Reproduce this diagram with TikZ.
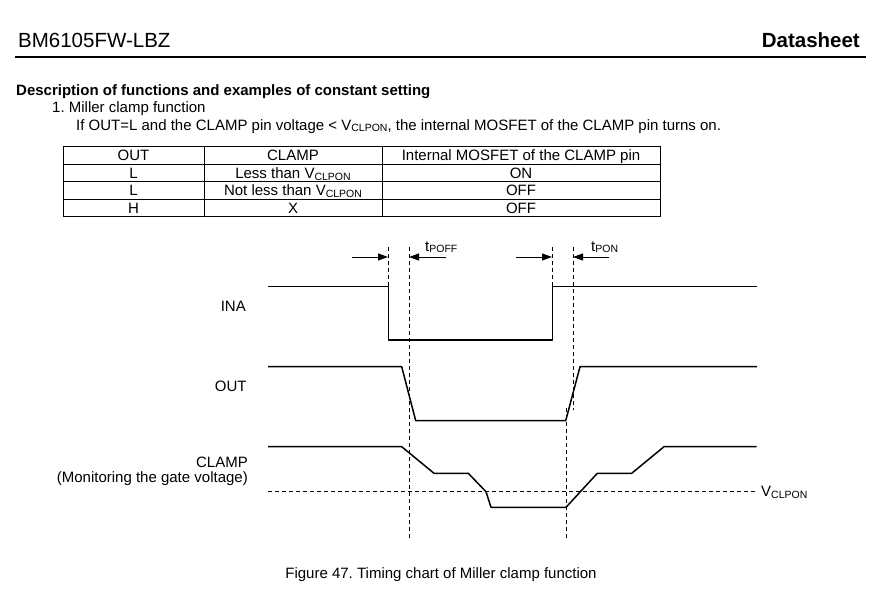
\documentclass[tikz,border=0pt]{standalone}
\usepackage{fontspec}
\setmainfont{Liberation Sans}
\usetikzlibrary{arrows.meta}
\frenchspacing
\newcommand\lowsub[1]{\raisebox{-0.25ex}{\fontsize{10.5}{11}\selectfont #1}}
\begin{document}
\begin{tikzpicture}[x=1pt,y=-1pt,
  txt/.style={inner sep=0pt,font=\fontsize{15}{18}\selectfont},
  cell/.style={txt,anchor=base},
  hdr/.style={inner sep=0pt,font=\fontsize{20.5}{24}\selectfont},
  tline/.style={line width=0.9pt},
  sig/.style={line width=1.5pt,line join=round},
  guide/.style={line width=0.9pt,dash pattern=on 4pt off 3pt},
  tarrow/.style={line width=0.9pt,-{Triangle[length=10pt,width=7pt]}}]
\useasboundingbox[fill=white] (0,0) rectangle (890,600);
% header
\node[hdr,anchor=base west] (title) at (18,47.5) {BM6105FW-LBZ};
\node[hdr,anchor=base east,font=\fontsize{20.5}{24}\selectfont\bfseries] (ds) at (860,47.5) {Datasheet};
\coordinate (rl) at (15,57); \coordinate (rr) at (866,57);
\draw[line width=2.6pt] (rl) -- (rr);
% text
\node[txt,anchor=base west,font=\fontsize{15}{18}\selectfont\bfseries] (h1) at (16,95) {Description of functions and examples of constant setting};
\node[txt,anchor=base west] (h2) at (52,112.5) {1. Miller clamp function};
\node[txt,anchor=base west] (h3) at (76,130) {If OUT=L and the CLAMP pin voltage < V\lowsub{CLPON}, the internal MOSFET of the CLAMP pin turns on.};
% table
\draw[tline] (63,146) rectangle (660,216.7);
\draw[tline] (63,164) -- (660,164) (63,181.7) -- (660,181.7) (63,199.3) -- (660,199.3);
\draw[tline] (204,146) -- (204,216.7) (382,146) -- (382,216.7);
\node[cell] (c11) at (133.5,160.4) {OUT};
\node[cell] (c12) at (293,160.4) {CLAMP};
\node[cell] (c13) at (521,160.4) {Internal MOSFET of the CLAMP pin};
\node[cell] (c21) at (133.5,178.2) {L};
\node[cell] (c22) at (293,178.2) {Less than V\lowsub{CLPON}};
\node[cell] (c23) at (521,178.2) {ON};
\node[cell] (c31) at (133.5,195.9) {L};
\node[cell] (c32) at (293,195.9) {Not less than V\lowsub{CLPON}};
\node[cell] (c33) at (521,195.9) {OFF};
\node[cell] (c41) at (133.5,213.4) {H};
\node[cell] (c42) at (293,213.4) {X};
\node[cell] (c43) at (521,213.4) {OFF};
% guides
\draw[guide] (388,247) -- (388,287);
\draw[guide] (409,247) -- (409,538);
\draw[guide] (552,247) -- (552,287);
\draw[guide] (573,247) -- (573,410);
\draw[guide] (566,408) -- (566,538);
\draw[guide] (268,491.7) -- (757,491.7);
% arrows
\coordinate (a1s) at (352,257); \coordinate (a1e) at (388,257);
\coordinate (a2s) at (446,257); \coordinate (a2e) at (409,257);
\coordinate (a3s) at (516,257); \coordinate (a3e) at (552,257);
\coordinate (a4s) at (609,257); \coordinate (a4e) at (573,257);
\draw[tarrow] (a1s) -- (a1e);
\draw[tarrow] (a2s) -- (a2e);
\draw[tarrow] (a3s) -- (a3e);
\draw[tarrow] (a4s) -- (a4e);
\node[txt,anchor=base west] (tpoff) at (425,251) {t\lowsub{POFF}};
\node[txt,anchor=base west] (tpon) at (591,251) {t\lowsub{PON}};
% signals
\draw[sig] (268,286.7) -- (388.3,286.7) -- (388.3,340) -- (552.3,340) -- (552.3,286.7) -- (757,286.7);
\draw[sig] (268,366.7) -- (401.7,366.7) -- (415.7,420.7) -- (565.7,420.7) -- (580,366.7) -- (757,366.7);
\draw[sig] (268,446.7) -- (401.7,446.7) -- (434,473.3) -- (468.3,473.3) -- (486,491.7) -- (491,507.3) -- (566,507.3) -- (597.3,473.3) -- (631.7,473.3) -- (664,446.7) -- (756.7,446.7);
% labels
\node[txt,anchor=east] (ina) at (246,306.7) {INA};
\node[txt,anchor=east] (out) at (246.7,386.7) {OUT};
\node[txt,anchor=east] (clamp) at (248,462) {CLAMP};
\node[txt,anchor=east] (mon) at (248,478.5) {(Monitoring the gate voltage)};
\node[txt,anchor=west] (vcl) at (761,492.5) {V\lowsub{CLPON}};
\node[txt,anchor=base] (cap) at (441,578) {Figure 47. Timing chart of Miller clamp function};
\end{tikzpicture}
\end{document}
